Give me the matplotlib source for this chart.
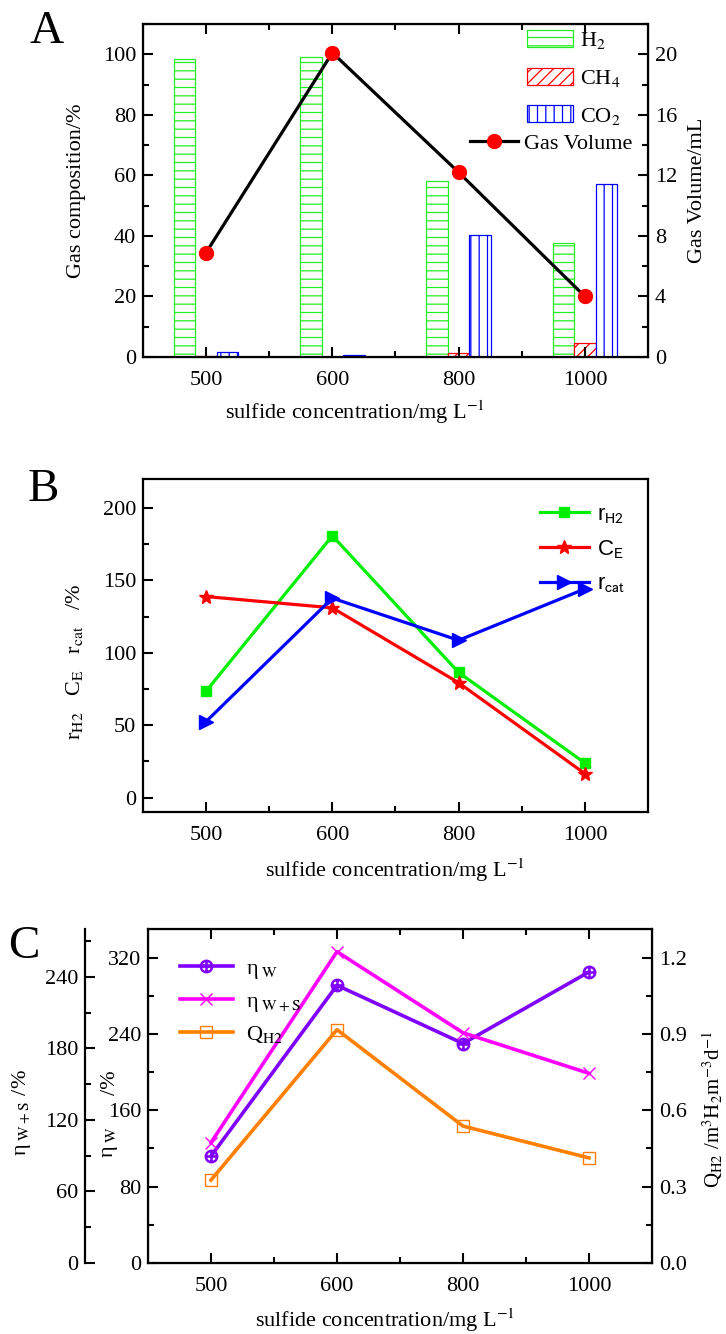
import numpy as np
import matplotlib.pyplot as plt
from matplotlib.ticker import MultipleLocator, FixedLocator, FormatStrFormatter

plt.rcParams['font.family'] = ['Liberation Serif', 'DejaVu Serif']
plt.rcParams['mathtext.fontset'] = 'stix'
plt.rcParams['font.size'] = 16
plt.rcParams['hatch.linewidth'] = 0.9

# categories (x axis, shared by all panels)
sulfide = ['500', '600', '800', '1000']

# panel A: gas composition (%) and gas volume (mL)
h2 = [98.3, 99.1, 58.2, 37.5]
ch4 = [0.3, 0.1, 1.2, 4.5]
co2 = [1.6, 0.8, 40.3, 57.2]
gas_volume = [6.9, 20.1, 12.2, 4.0]

# panel B: r_H2, C_E, r_cat (%)
r_h2 = [73.5, 180.8, 86.4, 23.8]
c_e = [138.8, 131.0, 79.3, 16.5]
r_cat = [52.5, 137.7, 108.6, 144.1]

# panel C: efficiencies (%) and H2 production rate
eta_w = [112, 291, 230, 305]
eta_ws = [101, 261, 193, 159]
q_h2 = [0.326, 0.917, 0.538, 0.413]

x = np.arange(len(sulfide))
W, H = 726, 1334


def ax_rect(left, right, top, bottom):
    return [left / W, 1 - bottom / H, (right - left) / W, (bottom - top) / H]


def yticks(ax):
    ax.tick_params(which='both', direction='in', width=1.5, pad=5)
    ax.tick_params(which='major', length=7)
    ax.tick_params(which='minor', length=4)


def style(ax, top_ticks=True):
    for s in ax.spines.values():
        s.set_linewidth(1.6)
    yticks(ax)
    ax.set_xlim(-0.5, 3.5)
    ax.set_xticks(x, sulfide)
    ax.xaxis.set_minor_locator(FixedLocator([0.5, 1.5, 2.5]))
    ax.tick_params(axis='x', which='both', top=top_ticks, pad=10)


fig = plt.figure(figsize=(W / 100, H / 100), dpi=100)
xlab = 'sulfide concentration/mg L$^{-1}$'

# ------------------------------ panel A ------------------------------
axa = fig.add_axes(ax_rect(143, 648, 24, 357))
style(axa)
bw = 0.17
b1 = axa.bar(x - bw, h2, bw, color='white', edgecolor='#22ee22', hatch='--', lw=0.9)
b2 = axa.bar(x, ch4, bw, color='white', edgecolor='red', hatch='///', lw=0.9)
b3 = axa.bar(x + bw, co2, bw, color='white', edgecolor='blue', hatch='||', lw=0.9)
axa.set_ylim(0, 110)
axa.yaxis.set_major_locator(MultipleLocator(20))
axa.yaxis.set_minor_locator(MultipleLocator(10))
axa.set_ylabel('Gas composition/%')
axa.yaxis.set_label_coords(-0.113, 0.5)
axa.set_xlabel(xlab)
axa.xaxis.set_label_coords(0.42, -0.125)

axa2 = axa.twinx()
axa2.plot(x, gas_volume, color='black', lw=2.3, marker='o', ms=10,
          mfc='red', mec='red', label='Gas Volume')
axa2.set_ylim(0, 22)
axa2.yaxis.set_major_locator(MultipleLocator(4))
axa2.yaxis.set_minor_locator(MultipleLocator(2))
yticks(axa2)
axa2.set_ylabel('Gas Volume/mL')
axa2.yaxis.set_label_coords(1.08, 0.5)

leg1 = axa2.legend([b1, b2, b3], ['H$_2$', 'CH$_4$', 'CO$_2$'], loc='upper left',
                   bbox_to_anchor=(0.76, 0.983), frameon=False, borderpad=0,
                   borderaxespad=0, handlelength=2.1, handleheight=0.8,
                   handletextpad=0.3, labelspacing=0.75)
axa2.add_artist(leg1)
axa2.legend(loc='upper left', bbox_to_anchor=(0.6475, 0.672), frameon=False,
            borderpad=0, borderaxespad=0, handlelength=2.15, handletextpad=0.3)

# ------------------------------ panel B ------------------------------
axb = fig.add_axes(ax_rect(143, 648, 479, 812))
style(axb, top_ticks=False)
axb.tick_params(axis='y', which='both', right=False)
axb.plot(x, r_h2, color='#00ee00', lw=2.3, marker='s', ms=7, label=r'r$_{\mathrm{H2}}$')
axb.plot(x, c_e, color='red', lw=2.3, marker='*', ms=10, label=r'C$_{\mathrm{E}}$')
axb.plot(x, r_cat, color='blue', lw=2.3, marker='>', ms=10, label=r'r$_{\mathrm{cat}}$')
axb.set_ylim(-10, 220)
axb.yaxis.set_major_locator(MultipleLocator(50))
axb.yaxis.set_minor_locator(MultipleLocator(25))
axb.set_ylabel(r'r$_{\mathrm{H2}}$   C$_{\mathrm{E}}$   r$_{\mathrm{cat}}$   /%')
axb.yaxis.set_label_coords(-0.115, 0.45)
axb.set_xlabel(xlab)
axb.xaxis.set_label_coords(0.5, -0.135)
axb.legend(loc='upper left', bbox_to_anchor=(0.786, 0.926), frameon=False,
           borderpad=0, borderaxespad=0, handlelength=2.2, handletextpad=0.35,
           labelspacing=0.6,
           prop={'family': 'Liberation Sans', 'size': 16, 'math_fontfamily': 'stixsans'})

# ------------------------------ panel C ------------------------------
axc = fig.add_axes(ax_rect(148, 652, 929, 1263))
style(axc)
axc.tick_params(axis='y', which='both', right=False)
l1, = axc.plot(x, eta_w, color='#8000ff', lw=2.6, marker=r'$\oplus$', ms=9,
               label=r'η$_{\ \mathrm{W}}$')
axc.set_ylim(0, 350)
axc.yaxis.set_major_locator(MultipleLocator(80))
axc.yaxis.set_minor_locator(MultipleLocator(40))
# y label in two pieces so that the "160" tick label sits in the gap, as in the original
axc.text(-0.075, 0.363, r'η$_{\ \mathrm{W}}$', rotation=90, ha='center', va='center',
         transform=axc.transAxes)
axc.text(-0.075, 0.539, '/%', rotation=90, ha='center', va='center',
         transform=axc.transAxes)
axc.set_xlabel(xlab)
axc.xaxis.set_label_coords(0.47, -0.13)

axq = axc.twinx()
l3, = axq.plot(x, q_h2, color='#ff8000', lw=2.6, marker='s', ms=8, mfc='none',
               label=r'Q$_{\mathrm{H2}}$')
axq.set_ylim(0, 1.3125)
axq.yaxis.set_major_locator(MultipleLocator(0.3))
axq.yaxis.set_minor_locator(MultipleLocator(0.15))
axq.yaxis.set_major_formatter(FormatStrFormatter('%.1f'))
yticks(axq)
axq.set_ylabel(r'Q$_{\mathrm{H2}}$ /m$^3$H$_2$m$^{-3}$d$^{-1}$', fontsize=15)
axq.yaxis.set_label_coords(1.095, 0.46)

axs = axc.twinx()
axs.spines['left'].set_position(('axes', -0.125))
axs.spines['left'].set_visible(True)
axs.spines['right'].set_visible(False)
axs.spines['top'].set_visible(False)
axs.spines['bottom'].set_visible(False)
axs.spines['left'].set_linewidth(1.6)
axs.yaxis.set_ticks_position('left')
axs.yaxis.set_label_position('left')
l2, = axs.plot(x, eta_ws, color='#ff00ff', lw=2.6, marker='x', ms=9,
               label=r'η$_{\ \mathrm{W+S}}$')
axs.set_ylim(0, 280)
axs.yaxis.set_major_locator(MultipleLocator(60))
axs.yaxis.set_minor_locator(MultipleLocator(30))
yticks(axs)
axs.set_ylabel(r'η$_{\ \mathrm{W+S}}$ /%')
axs.yaxis.set_label_coords(-0.228, 0.45)
axs.legend([l1, l2, l3], [l1.get_label(), l2.get_label(), l3.get_label()],
           loc='upper left', bbox_to_anchor=(0.063, 0.912), frameon=False,
           borderpad=0, borderaxespad=0, handlelength=2.4, handletextpad=0.6,
           labelspacing=0.45)

# panel letters
fig.text(30 / W, 1 - 43 / H, 'A', fontsize=34)
fig.text(28 / W, 1 - 501 / H, 'B', fontsize=34)
fig.text(8 / W, 1 - 958 / H, 'C', fontsize=34)

fig.savefig('out.png', dpi=100)
